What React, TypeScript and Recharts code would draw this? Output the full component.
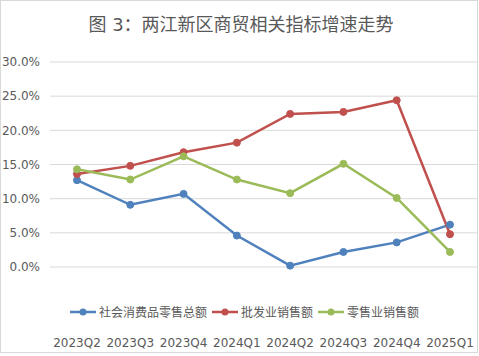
import { CartesianGrid, Line, LineChart, XAxis, YAxis } from "recharts";

const quarters = ["2023Q2", "2023Q3", "2023Q4", "2024Q1", "2024Q2", "2024Q3", "2024Q4", "2025Q1"];
const retailTotal = [12.7, 9.1, 10.7, 4.6, 0.2, 2.2, 3.6, 6.2];
const wholesale = [13.6, 14.8, 16.8, 18.2, 22.4, 22.7, 24.4, 4.8];
const retail = [14.3, 12.8, 16.2, 12.8, 10.8, 15.1, 10.1, 2.2];
const yTicks = [0, 5, 10, 15, 20, 25, 30];

const SERIES = [
  { key: "社会消费品零售总额", color: "#4F81BD", values: retailTotal },
  { key: "批发业销售额", color: "#C0504D", values: wholesale },
  { key: "零售业销售额", color: "#9BBB59", values: retail },
];

const FONT = "'DejaVu Sans', 'Noto Sans CJK SC', sans-serif";
const TEXT = "#595959";

const data = quarters.map((q, i) => {
  const row: Record<string, string | number> = { name: q };
  SERIES.forEach((s) => (row[s.key] = s.values[i]));
  return row;
});

// 类目标签画在图例下方，和原图一致
function QuarterTick({ x, y, payload }: any) {
  return (
    <text x={x} y={y} dy={72} textAnchor="middle" fill={TEXT} fontSize={12} fontFamily={FONT}>
      {payload.value}
    </text>
  );
}

function LegendRow() {
  return (
    <div
      style={{
        position: "absolute",
        top: 302,
        left: 0,
        width: 490,
        display: "flex",
        justifyContent: "center",
        fontFamily: FONT,
        fontSize: 12,
        color: TEXT,
      }}
    >
      {SERIES.map((s) => (
        <div key={s.key} style={{ display: "flex", alignItems: "center", marginRight: 4 }}>
          <svg width={28} height={16}>
            <line x1={1} y1={8} x2={27} y2={8} stroke={s.color} strokeWidth={2.5} />
            <circle cx={14} cy={8} r={3.5} fill={s.color} />
          </svg>
          <span style={{ marginLeft: 2 }}>{s.key}</span>
        </div>
      ))}
    </div>
  );
}

export default function App() {
  return (
    <div
      style={{
        position: "absolute",
        left: 0,
        top: 0,
        width: 478,
        height: 353,
        boxSizing: "border-box",
        border: "1px solid #D9D9D9",
        background: "#fff",
      }}
    >
      <div
        style={{
          position: "absolute",
          top: 9,
          left: 0,
          width: 480,
          textAlign: "center",
          fontFamily: FONT,
          fontSize: 18,
          color: TEXT,
        }}
      >
        图 3：两江新区商贸相关指标增速走势
      </div>
      <div style={{ position: "absolute", left: -1, top: -1 }}>
        <LineChart width={479} height={356} data={data} margin={{ top: 62, right: 2, bottom: 1, left: 0 }}>
          <CartesianGrid vertical={false} stroke="#D9D9D9" strokeWidth={1} />
          <XAxis
            dataKey="name"
            axisLine={false}
            tickLine={false}
            height={88}
            interval={0}
            padding={{ left: 27, right: 27 }}
            tick={<QuarterTick />}
          />
          <YAxis
            width={50}
            domain={[0, 30]}
            ticks={yTicks}
            axisLine={false}
            tickLine={false}
            tickMargin={4}
            tickFormatter={(v: number) => `${v.toFixed(1)}%`}
            tick={{ fill: TEXT, fontSize: 12, fontFamily: FONT }}
          />
          {SERIES.map((s) => (
            <Line
              key={s.key}
              dataKey={s.key}
              stroke={s.color}
              strokeWidth={2.5}
              dot={{ r: 3.5, fill: s.color, stroke: s.color, strokeWidth: 1 }}
              isAnimationActive={false}
            />
          ))}
        </LineChart>
      </div>
      <LegendRow />
    </div>
  );
}
